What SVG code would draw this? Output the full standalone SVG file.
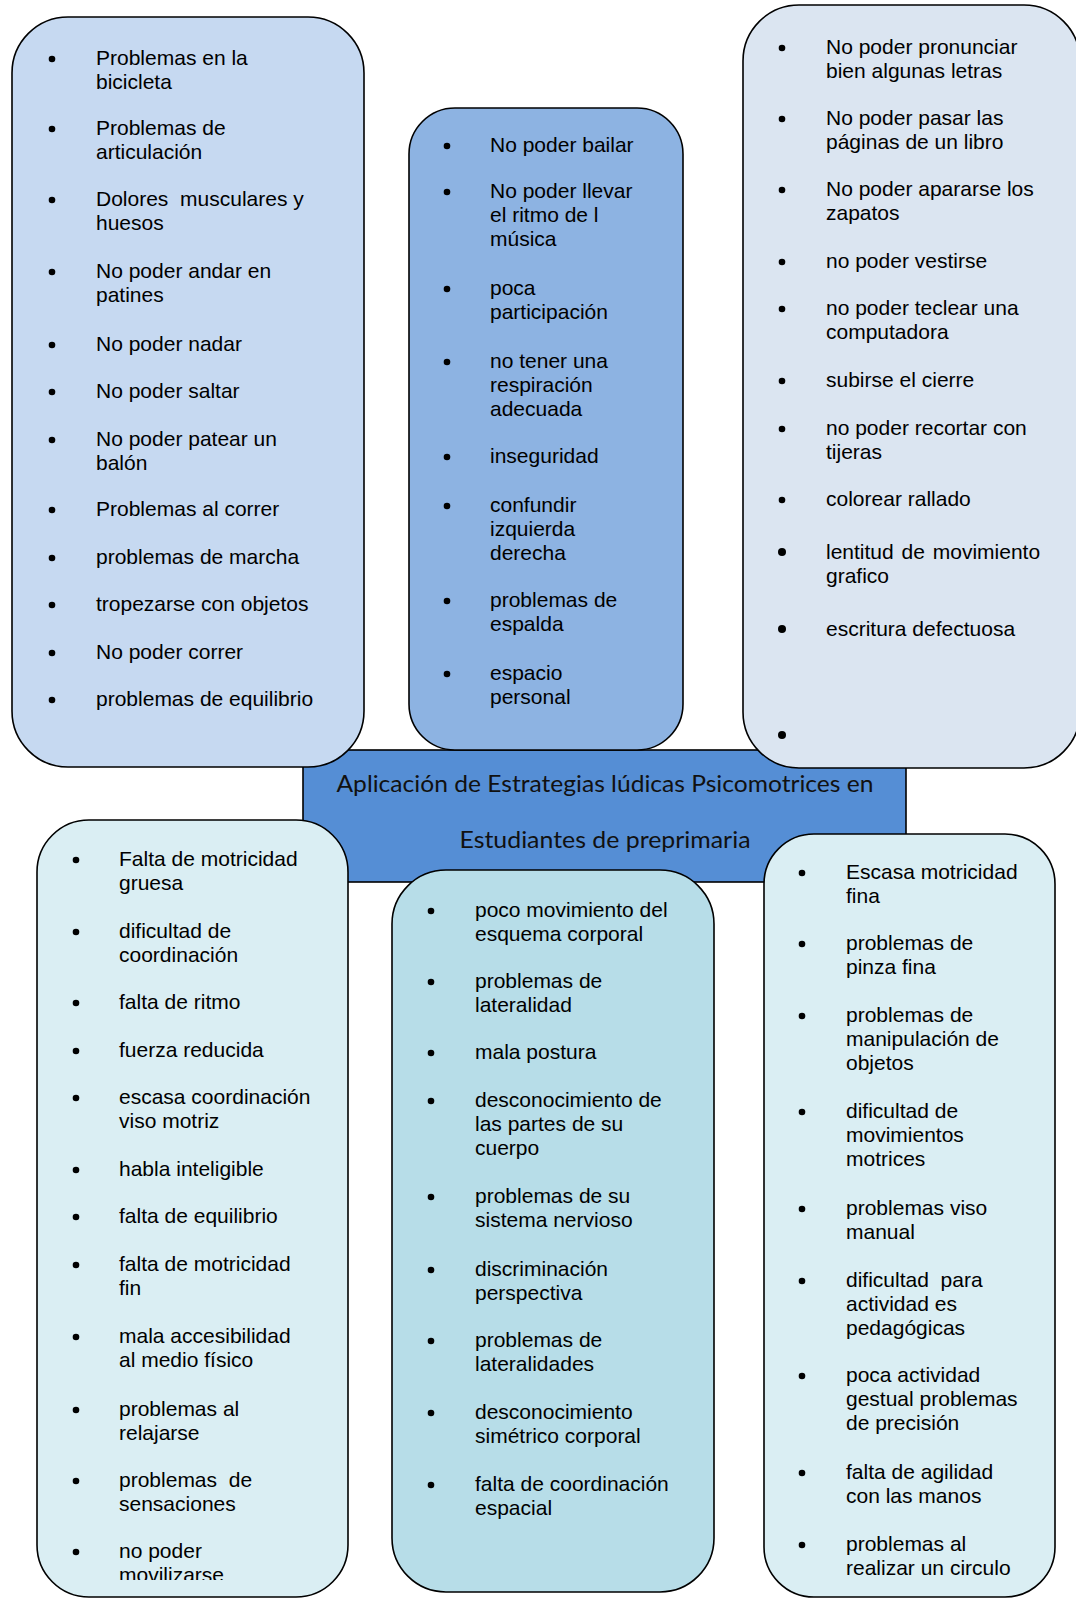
<svg xmlns="http://www.w3.org/2000/svg" width="1076" height="1599" viewBox="0 0 1076 1599">
<style>
.box{stroke:#000;stroke-width:1.6}
.t{font-family:"Liberation Sans",Arial,sans-serif;font-size:21px;fill:#000}
.c{font-family:Lato,"Open Sans",sans-serif;font-size:24px;fill:#111}
.b{fill:#000}
</style>
<defs>
<clipPath id="clip4"><rect x="30" y="815" width="330" height="765"/></clipPath>
</defs>
<rect width="1076" height="1599" fill="#fff"/>
<g id="connectors"></g>
<g id="center">
<rect x="303" y="750" width="603" height="132" fill="#558ed5" stroke="#000" stroke-width="1.6"/>
<text class="c" x="605" y="792" text-anchor="middle" textLength="537" lengthAdjust="spacingAndGlyphs">Aplicación de Estrategias lúdicas Psicomotrices en</text>
<text class="c" x="605" y="848" text-anchor="middle" textLength="291" lengthAdjust="spacingAndGlyphs">Estudiantes de preprimaria</text>
</g>
<g id="box1">
<rect class="box" x="12" y="17" width="352" height="750" rx="56" fill="#c6d9f1"/>
<g class="b"><circle cx="52" cy="59" r="3.3"/><circle cx="52" cy="129" r="3.3"/><circle cx="52" cy="200" r="3.3"/><circle cx="52" cy="272" r="3.3"/><circle cx="52" cy="345" r="3.3"/><circle cx="52" cy="392" r="3.3"/><circle cx="52" cy="440" r="3.3"/><circle cx="52" cy="510" r="3.3"/><circle cx="52" cy="558" r="3.3"/><circle cx="52" cy="605" r="3.3"/><circle cx="52" cy="653" r="3.3"/><circle cx="52" cy="700" r="3.3"/></g>
<text class="t"><tspan x="96" y="65">Problemas en la</tspan><tspan x="96" dy="24">bicicleta</tspan></text>
<text class="t"><tspan x="96" y="135">Problemas de</tspan><tspan x="96" dy="24">articulación</tspan></text>
<text class="t" xml:space="preserve"><tspan x="96" y="206">Dolores  musculares y</tspan><tspan x="96" dy="24">huesos</tspan></text>
<text class="t"><tspan x="96" y="278">No poder andar en</tspan><tspan x="96" dy="24">patines</tspan></text>
<text class="t" x="96" y="351">No poder nadar</text>
<text class="t" x="96" y="398">No poder saltar</text>
<text class="t"><tspan x="96" y="446">No poder patear un</tspan><tspan x="96" dy="24">balón</tspan></text>
<text class="t" x="96" y="516">Problemas al correr</text>
<text class="t" x="96" y="564">problemas de marcha</text>
<text class="t" x="96" y="611">tropezarse con objetos</text>
<text class="t" x="96" y="659">No poder correr</text>
<text class="t" x="96" y="706">problemas de equilibrio</text>
</g>
<g id="box2">
<rect class="box" x="409" y="108" width="274" height="642" rx="46" fill="#8db3e2"/>
<g class="b"><circle cx="447" cy="146" r="3.3"/><circle cx="447" cy="192" r="3.3"/><circle cx="447" cy="289" r="3.3"/><circle cx="447" cy="362" r="3.3"/><circle cx="447" cy="457" r="3.3"/><circle cx="447" cy="506" r="3.3"/><circle cx="447" cy="601" r="3.3"/><circle cx="447" cy="674" r="3.3"/></g>
<text class="t" x="490" y="152">No poder bailar</text>
<text class="t"><tspan x="490" y="198">No poder llevar</tspan><tspan x="490" dy="24">el ritmo de l</tspan><tspan x="490" dy="24">música</tspan></text>
<text class="t"><tspan x="490" y="295">poca</tspan><tspan x="490" dy="24">participación</tspan></text>
<text class="t"><tspan x="490" y="368">no tener una</tspan><tspan x="490" dy="24">respiración</tspan><tspan x="490" dy="24">adecuada</tspan></text>
<text class="t" x="490" y="463">inseguridad</text>
<text class="t"><tspan x="490" y="512">confundir</tspan><tspan x="490" dy="24">izquierda</tspan><tspan x="490" dy="24">derecha</tspan></text>
<text class="t"><tspan x="490" y="607">problemas de</tspan><tspan x="490" dy="24">espalda</tspan></text>
<text class="t"><tspan x="490" y="680">espacio</tspan><tspan x="490" dy="24">personal</tspan></text>
</g>
<g id="box3">
<rect class="box" x="743" y="5" width="337" height="763" rx="56" fill="#dbe5f1"/>
<g class="b"><circle cx="782" cy="48" r="3.3"/><circle cx="782" cy="119" r="3.3"/><circle cx="782" cy="190" r="3.3"/><circle cx="782" cy="262" r="3.3"/><circle cx="782" cy="309" r="3.3"/><circle cx="782" cy="381" r="3.3"/><circle cx="782" cy="429" r="3.3"/><circle cx="782" cy="500" r="3.3"/><circle cx="782" cy="552" r="4"/><circle cx="782" cy="629" r="4"/><circle cx="782" cy="735" r="4"/></g>
<text class="t"><tspan x="826" y="54">No poder pronunciar</tspan><tspan x="826" dy="24">bien algunas letras</tspan></text>
<text class="t"><tspan x="826" y="125">No poder pasar las</tspan><tspan x="826" dy="24">páginas de un libro</tspan></text>
<text class="t"><tspan x="826" y="196">No poder apararse los</tspan><tspan x="826" dy="24">zapatos</tspan></text>
<text class="t" x="826" y="268">no poder vestirse</text>
<text class="t"><tspan x="826" y="315">no poder teclear una</tspan><tspan x="826" dy="24">computadora</tspan></text>
<text class="t" x="826" y="387">subirse el cierre</text>
<text class="t"><tspan x="826" y="435">no poder recortar con</tspan><tspan x="826" dy="24">tijeras</tspan></text>
<text class="t" x="826" y="506">colorear rallado</text>
<text class="t" word-spacing="2"><tspan x="826" y="559">lentitud de movimiento</tspan><tspan x="826" dy="24">grafico</tspan></text>
<text class="t" x="826" y="636">escritura defectuosa</text>
</g>
<g id="box4">
<rect class="box" x="37" y="820" width="311" height="777" rx="52" fill="#daeef3"/>
<g class="b"><circle cx="76" cy="860" r="3.3"/><circle cx="76" cy="932" r="3.3"/><circle cx="76" cy="1003" r="3.3"/><circle cx="76" cy="1051" r="3.3"/><circle cx="76" cy="1098" r="3.3"/><circle cx="76" cy="1170" r="3.3"/><circle cx="76" cy="1217" r="3.3"/><circle cx="76" cy="1265" r="3.3"/><circle cx="76" cy="1337" r="3.3"/><circle cx="76" cy="1410" r="3.3"/><circle cx="76" cy="1481" r="3.3"/><circle cx="76" cy="1552" r="3.3"/></g>
<g clip-path="url(#clip4)">
<text class="t"><tspan x="119" y="866">Falta de motricidad</tspan><tspan x="119" dy="24">gruesa</tspan></text>
<text class="t"><tspan x="119" y="938">dificultad de</tspan><tspan x="119" dy="24">coordinación</tspan></text>
<text class="t" x="119" y="1009">falta de ritmo</text>
<text class="t" x="119" y="1057">fuerza reducida</text>
<text class="t"><tspan x="119" y="1104">escasa coordinación</tspan><tspan x="119" dy="24">viso motriz</tspan></text>
<text class="t" x="119" y="1176">habla inteligible</text>
<text class="t" x="119" y="1223">falta de equilibrio</text>
<text class="t"><tspan x="119" y="1271">falta de motricidad</tspan><tspan x="119" dy="24">fin</tspan></text>
<text class="t"><tspan x="119" y="1343">mala accesibilidad</tspan><tspan x="119" dy="24">al medio físico</tspan></text>
<text class="t"><tspan x="119" y="1416">problemas al</tspan><tspan x="119" dy="24">relajarse</tspan></text>
<text class="t" xml:space="preserve"><tspan x="119" y="1487">problemas  de</tspan><tspan x="119" dy="24">sensaciones</tspan></text>
<text class="t"><tspan x="119" y="1558">no poder</tspan><tspan x="119" dy="24">movilizarse</tspan></text>
</g>
</g>
<g id="box5">
<rect class="box" x="392" y="870" width="322" height="722" rx="54" fill="#b7dde8"/>
<g class="b"><circle cx="431" cy="911" r="3.3"/><circle cx="431" cy="982" r="3.3"/><circle cx="431" cy="1053" r="3.3"/><circle cx="431" cy="1101" r="3.3"/><circle cx="431" cy="1197" r="3.3"/><circle cx="431" cy="1270" r="3.3"/><circle cx="431" cy="1341" r="3.3"/><circle cx="431" cy="1413" r="3.3"/><circle cx="431" cy="1485" r="3.3"/></g>
<text class="t"><tspan x="475" y="917">poco movimiento del</tspan><tspan x="475" dy="24">esquema corporal</tspan></text>
<text class="t"><tspan x="475" y="988">problemas de</tspan><tspan x="475" dy="24">lateralidad</tspan></text>
<text class="t" x="475" y="1059">mala postura</text>
<text class="t"><tspan x="475" y="1107">desconocimiento de</tspan><tspan x="475" dy="24">las partes de su</tspan><tspan x="475" dy="24">cuerpo</tspan></text>
<text class="t"><tspan x="475" y="1203">problemas de su</tspan><tspan x="475" dy="24">sistema nervioso</tspan></text>
<text class="t"><tspan x="475" y="1276">discriminación</tspan><tspan x="475" dy="24">perspectiva</tspan></text>
<text class="t"><tspan x="475" y="1347">problemas de</tspan><tspan x="475" dy="24">lateralidades</tspan></text>
<text class="t"><tspan x="475" y="1419">desconocimiento</tspan><tspan x="475" dy="24">simétrico corporal</tspan></text>
<text class="t"><tspan x="475" y="1491">falta de coordinación</tspan><tspan x="475" dy="24">espacial</tspan></text>
</g>
<g id="box6">
<rect class="box" x="764" y="834" width="291" height="763" rx="50" fill="#daeef3"/>
<g class="b"><circle cx="802" cy="873" r="3.3"/><circle cx="802" cy="944" r="3.3"/><circle cx="802" cy="1016" r="3.3"/><circle cx="802" cy="1112" r="3.3"/><circle cx="802" cy="1209" r="3.3"/><circle cx="802" cy="1281" r="3.3"/><circle cx="802" cy="1376" r="3.3"/><circle cx="802" cy="1473" r="3.3"/><circle cx="802" cy="1545" r="3.3"/></g>
<text class="t"><tspan x="846" y="879">Escasa motricidad</tspan><tspan x="846" dy="24">fina</tspan></text>
<text class="t"><tspan x="846" y="950">problemas de</tspan><tspan x="846" dy="24">pinza fina</tspan></text>
<text class="t"><tspan x="846" y="1022">problemas de</tspan><tspan x="846" dy="24">manipulación de</tspan><tspan x="846" dy="24">objetos</tspan></text>
<text class="t"><tspan x="846" y="1118">dificultad de</tspan><tspan x="846" dy="24">movimientos</tspan><tspan x="846" dy="24">motrices</tspan></text>
<text class="t"><tspan x="846" y="1215">problemas viso</tspan><tspan x="846" dy="24">manual</tspan></text>
<text class="t" xml:space="preserve"><tspan x="846" y="1287">dificultad  para</tspan><tspan x="846" dy="24">actividad es</tspan><tspan x="846" dy="24">pedagógicas</tspan></text>
<text class="t"><tspan x="846" y="1382">poca actividad</tspan><tspan x="846" dy="24">gestual problemas</tspan><tspan x="846" dy="24">de precisión</tspan></text>
<text class="t"><tspan x="846" y="1479">falta de agilidad</tspan><tspan x="846" dy="24">con las manos</tspan></text>
<text class="t"><tspan x="846" y="1551">problemas al</tspan><tspan x="846" dy="24">realizar un circulo</tspan></text>
</g>
</svg>
